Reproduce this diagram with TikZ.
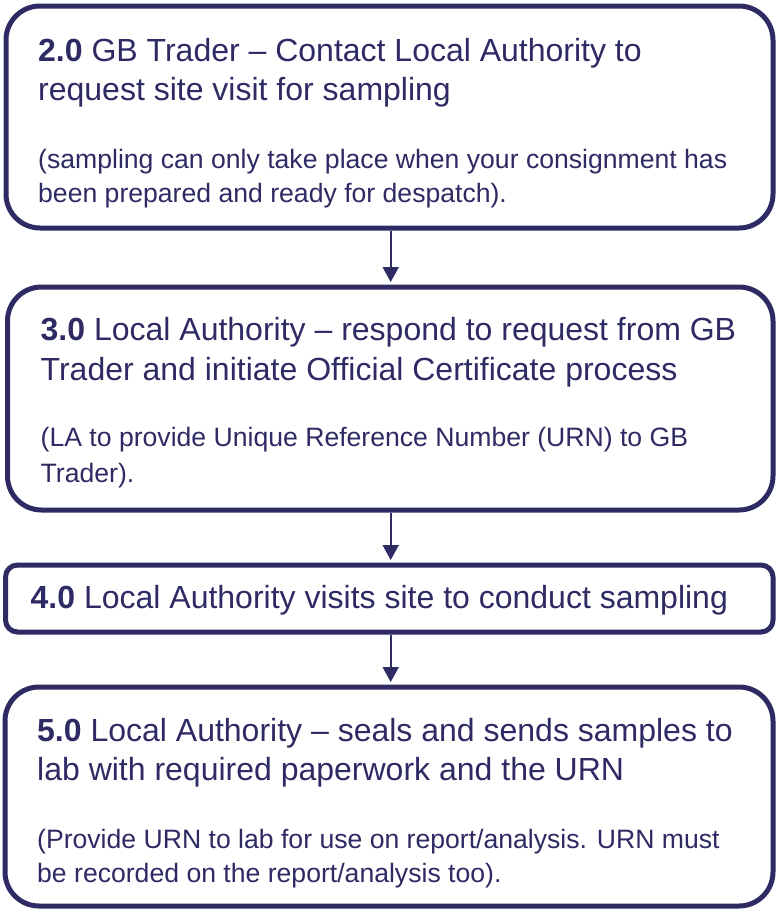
\documentclass[tikz,border=0pt]{standalone}
\usepackage{fontspec}
\setmainfont{Liberation Sans}
\usetikzlibrary{arrows.meta}
\definecolor{navy}{RGB}{46,42,100}
\begin{document}
\begin{tikzpicture}[x=1pt,y=-1pt,
  box/.style={draw=navy,line width=5pt,rounded corners=34pt,inner sep=0pt,fill=white},
  title/.style={anchor=base west,inner sep=0pt,text=navy,font=\fontsize{32}{40}\selectfont},
  sub/.style={anchor=base west,inner sep=0pt,text=navy,font=\fontsize{26.6}{35}\selectfont},
  arr/.style={draw=navy,line width=2pt,-{Triangle[width=16pt,length=15pt]},shorten >=2.5pt}]
\useasboundingbox (0,0) rectangle (776,911);
\node[box,minimum width=767pt,minimum height=222pt] (b1) at (389.5,117) {};
\node[box,minimum width=765.5pt,minimum height=223pt] (b2) at (390.25,398.5) {};
\node[box,rounded corners=12pt,minimum width=767.5pt,minimum height=67pt] (b3) at (389.25,598.5) {};
\node[box,minimum width=768pt,minimum height=219pt] (b4) at (389,796.5) {};
% box 1
\node[title] (t1a) at (38,61) {\textbf{2.0} GB Trader – Contact Local Authority to};
\node[title] (t1b) at (38,100) {request site visit for sampling};
\node[sub] (s1a) at (38,168) {(sampling can only take place when your consignment has};
\node[sub] (s1b) at (38,202) {been prepared and ready for despatch).};
% box 2
\node[title] (t2a) at (40.5,340) {\textbf{3.0} Local Authority – respond to request from GB};
\node[title] (t2b) at (40.5,380) {Trader and initiate Official Certificate process};
\node[sub] (s2a) at (40.5,446) {(LA to provide Unique Reference Number (URN) to GB};
\node[sub] (s2b) at (40.5,482) {Trader).};
% box 3
\node[title] (t3) at (30.5,608) {\textbf{4.0} Local Authority visits site to conduct sampling};
% box 4
\node[title] (t4a) at (37,741) {\textbf{5.0} Local Authority – seals and sends samples to};
\node[title] (t4b) at (37,780) {lab with required paperwork and the URN};
\node[sub] (s4a) at (37,848) {(Provide URN to lab for use on report/analysis. URN must};
\node[sub] (s4b) at (37,882) {be recorded on the report/analysis too).};
% arrows
\coordinate (ax) at (390.7,0);
\draw[arr] (b1.south -| ax) -- (b2.north -| ax);
\draw[arr] (b2.south -| ax) -- (b3.north -| ax);
\draw[arr] (b3.south -| ax) -- (b4.north -| ax);
\end{tikzpicture}
\end{document}
